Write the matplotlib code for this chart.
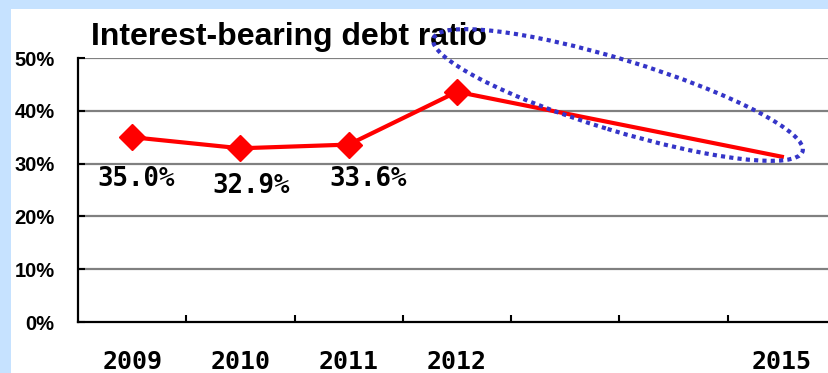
import numpy as np
import matplotlib
matplotlib.use('Agg')
import matplotlib.pyplot as plt
from matplotlib.patches import Ellipse, Rectangle

# data
years = ['2009', '2010', '2011', '2012', '', '', '2015']
x_idx = [0, 1, 2, 3, 6]                       # positions that carry a value
ratio = [35.0, 32.9, 33.6, 43.6, 31.3]         # 2015 = forecast, no marker
labels = ['35.0%', '32.9%', '33.6%']
label_offsets = [(3, -30), (8, -27), (14, -25)]   # points, below the markers
yticks = [0, 10, 20, 30, 40, 50]

fig = plt.figure(figsize=(8.29, 3.73), dpi=100)
fig.patch.set_facecolor('#C6E2FF')
# white panel inside light blue frame
fig.patches.append(Rectangle((11 / 829, 0), 1, (373 - 9) / 373, transform=fig.transFigure,
                             facecolor='white', edgecolor='none', zorder=-5))

ax = fig.add_axes([78 / 829, 51 / 373, 758 / 829, 264 / 373])
ax.set_facecolor('none')
ax.set_xlim(-0.5, len(years) - 0.5)
ax.set_ylim(0, 50)

# grid
for v in yticks[1:]:
    ax.axhline(v, color='#808080', lw=1.6, zorder=1)

ax.plot(x_idx, ratio, color='#FF0000', lw=3, marker='D', markersize=13,
        markevery=[0, 1, 2, 3], zorder=3, clip_on=False)

for i, (lab, off) in enumerate(zip(labels, label_offsets)):
    ax.annotate(lab, (x_idx[i], ratio[i]), xytext=off, textcoords='offset points',
                ha='center', va='center', fontsize=18.5, fontweight='bold',
                family='DejaVu Sans Mono')

for s in ['top', 'right']:
    ax.spines[s].set_visible(False)
for s in ['left', 'bottom']:
    ax.spines[s].set_linewidth(1.6)
    ax.spines[s].set_color('black')

ax.set_yticks(yticks)
ax.set_yticklabels([f'{v}%' for v in yticks], fontsize=14.5, fontweight='bold',
                   family='Liberation Sans')
ax.tick_params(axis='y', direction='in', length=5, width=1.5, pad=17)

ax.set_xticks(range(len(years)))
ax.set_xticklabels(years, fontsize=18, fontweight='bold', family='DejaVu Sans Mono')
ax.set_xticks(np.arange(0.5, len(years) - 0.5, 1), minor=True)
ax.tick_params(axis='x', which='major', length=0, pad=20)
ax.tick_params(axis='x', which='minor', direction='in', length=5, width=1.5)

# dotted highlight around the 2012 -> 2015 segment
ell = Ellipse((6.18, (373 - 95) / 100), 3.86, 0.71, angle=-17,
              transform=fig.dpi_scale_trans, fill=False, edgecolor='#3535C8',
              lw=3, linestyle=(0, (1, 1)), zorder=4)
fig.patches.append(ell)

fig.text(91 / 829, (373 - 45) / 373, 'Interest-bearing debt ratio', fontsize=23,
         fontweight='bold', family='Liberation Sans', va='baseline', ha='left')

fig.savefig('out.png', dpi=100, facecolor=fig.get_facecolor())
